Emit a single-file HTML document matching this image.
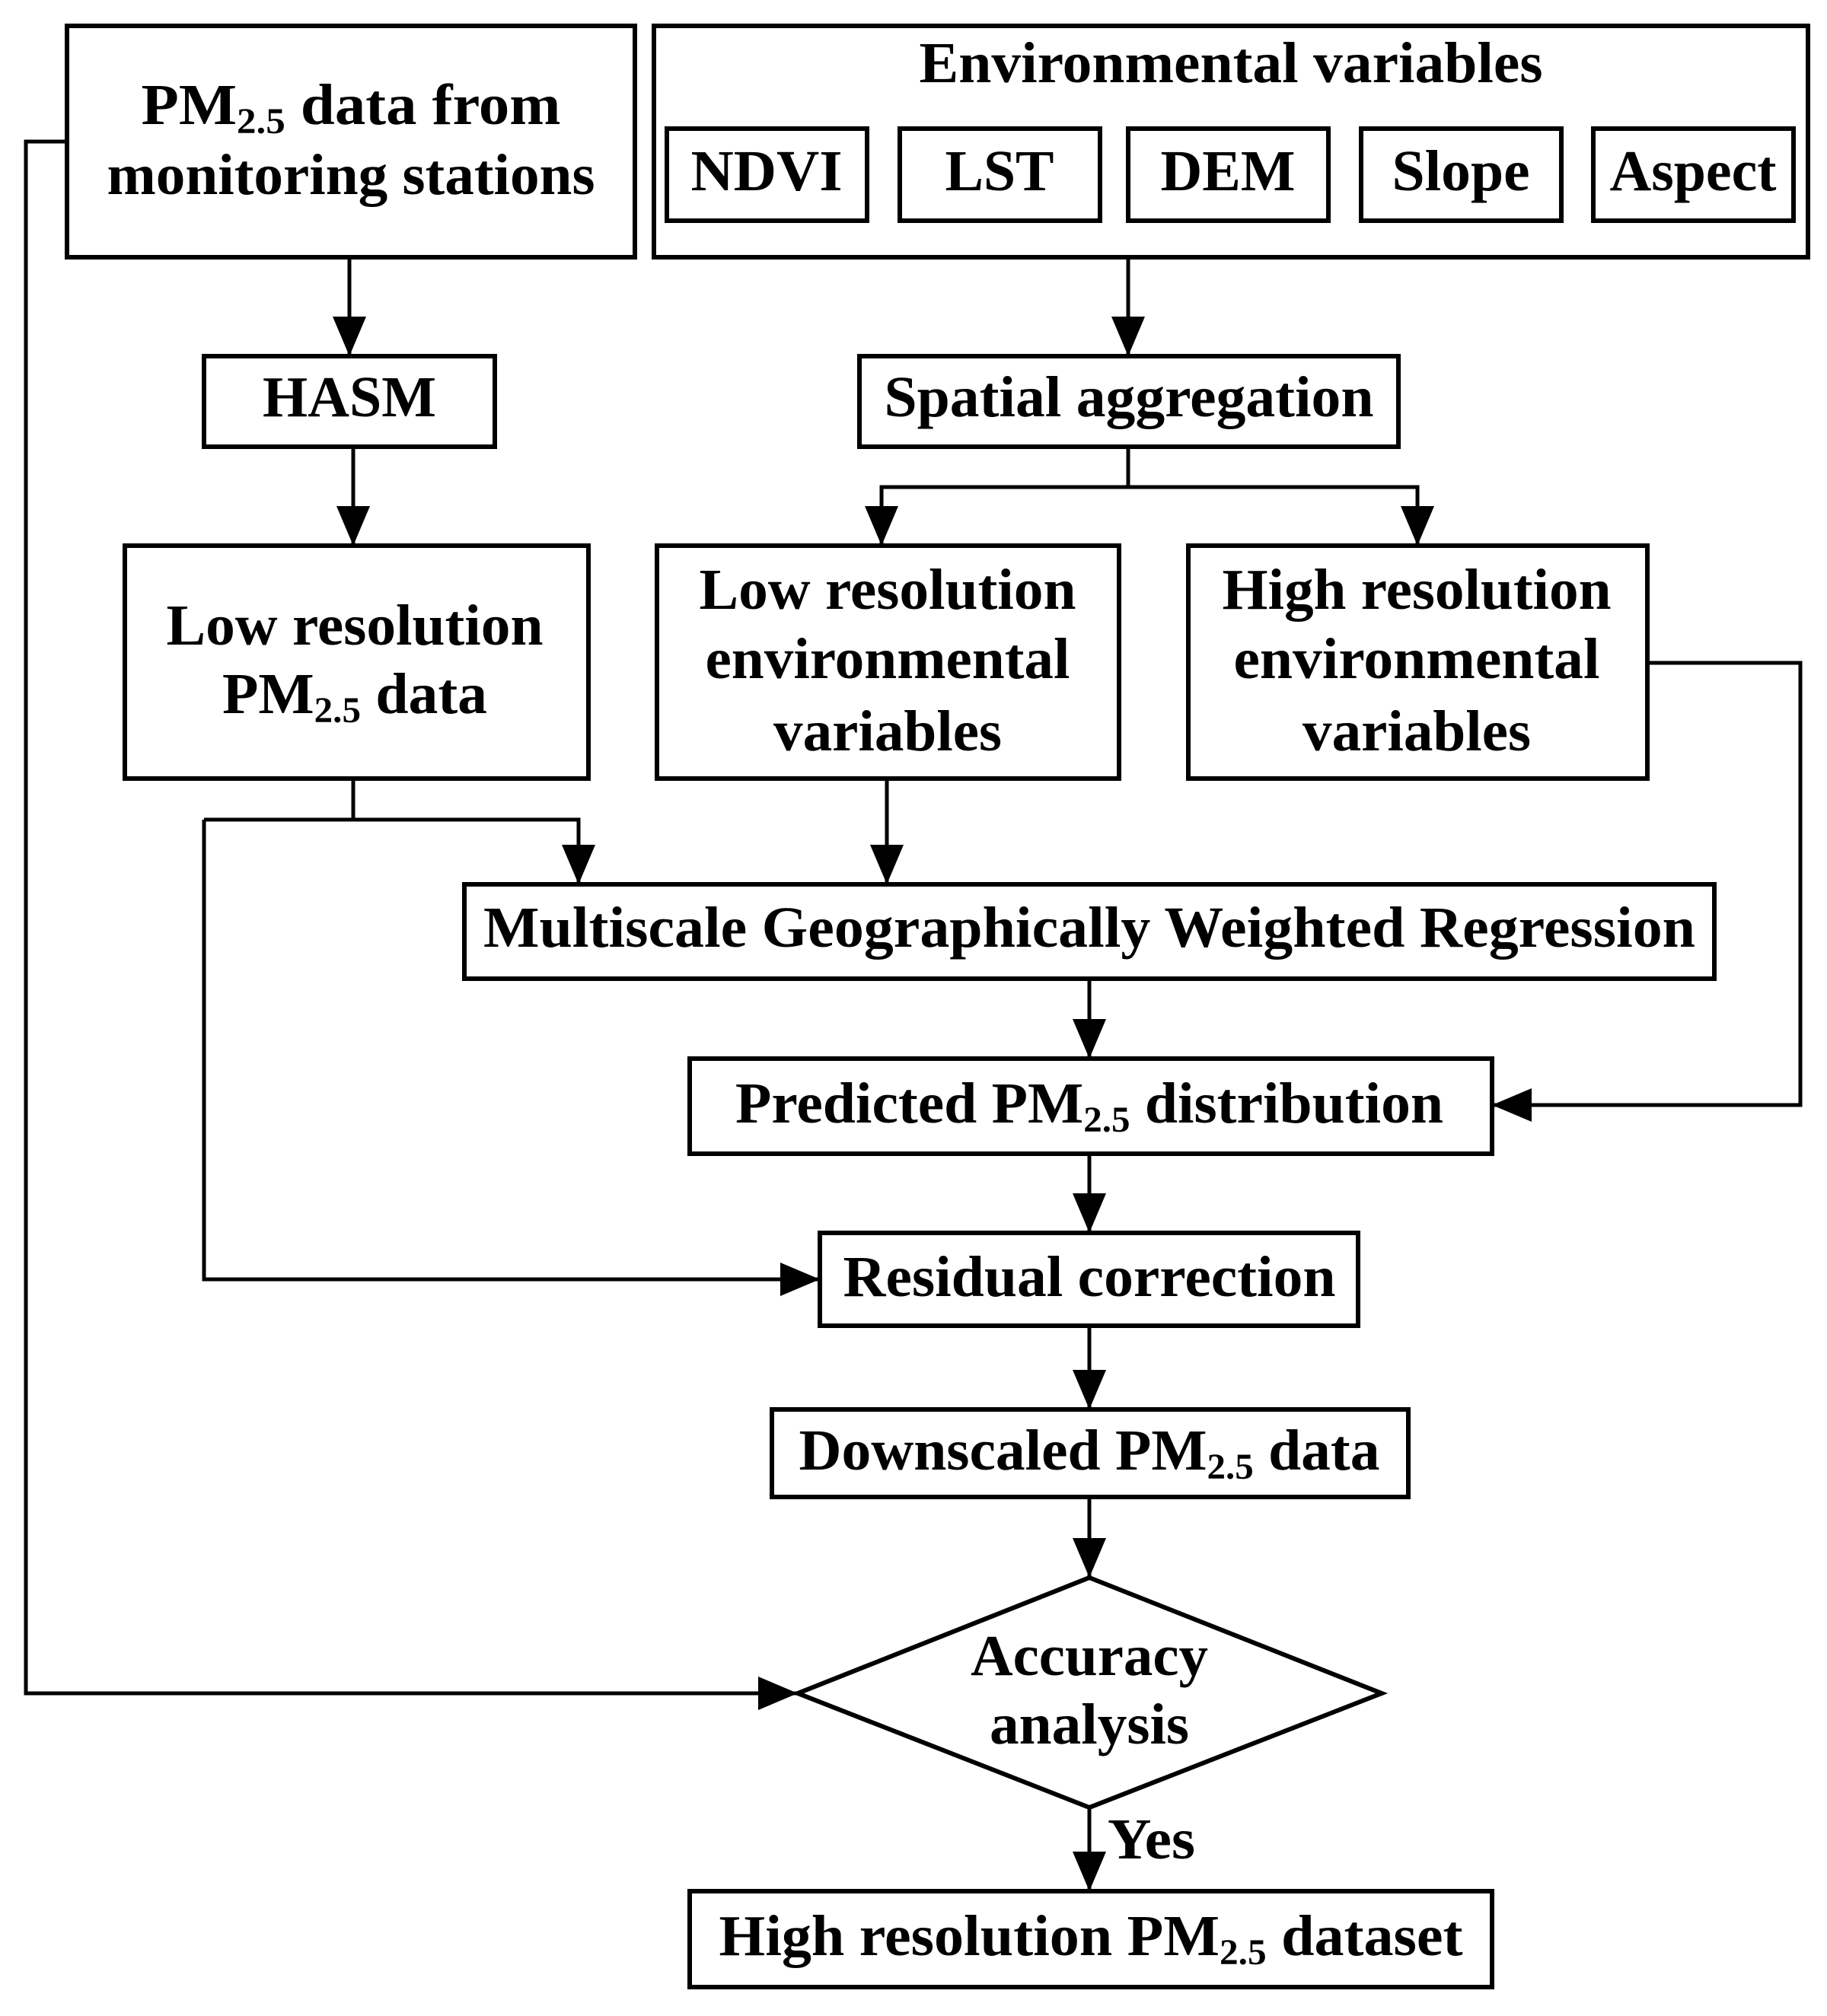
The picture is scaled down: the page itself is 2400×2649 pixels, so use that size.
<!DOCTYPE html>
<html><head><meta charset="utf-8"><style>
html,body{margin:0;padding:0;background:#fff}
svg{display:block}
text{font-family:"Liberation Serif",serif;font-weight:bold;font-size:76px;fill:#000}
</style></head><body>
<svg width="2400" height="2649" viewBox="0 0 2400 2649" xmlns="http://www.w3.org/2000/svg">
<defs>
<marker id="a" markerUnits="userSpaceOnUse" markerWidth="52" markerHeight="44" refX="52" refY="22" orient="auto">
<path d="M0,0 L52,22 L0,44 Z" fill="#000"/>
</marker>
</defs>
<g fill="none" stroke="#000" stroke-width="6">
<rect x="88" y="34" width="746" height="304"/>
<rect x="859" y="34" width="1516" height="304"/>
<rect x="876" y="169" width="263" height="121"/>
<rect x="1182" y="169" width="263" height="121"/>
<rect x="1482" y="169" width="263" height="121"/>
<rect x="1788" y="169" width="263" height="121"/>
<rect x="2093" y="169" width="263" height="121"/>
<rect x="268" y="468" width="382" height="119"/>
<rect x="1129" y="468" width="708" height="119"/>
<rect x="164" y="717" width="609" height="306"/>
<rect x="863" y="717" width="607" height="306"/>
<rect x="1561" y="717" width="603" height="306"/>
<rect x="610" y="1162" width="1642" height="124"/>
<rect x="906" y="1391" width="1054" height="125"/>
<rect x="1077" y="1620" width="707" height="122"/>
<rect x="1014" y="1852" width="836" height="115"/>
<path d="M1431,2073 L1815,2225 L1431,2375 L1048,2225 Z"/>
<rect x="906" y="2485" width="1054" height="126"/>
</g>
<g fill="none" stroke="#000" stroke-width="5">
<path d="M88,186 H34 V2225 H1048" marker-end="url(#a)"/>
<path d="M459,338 V468" marker-end="url(#a)"/>
<path d="M464,587 V717" marker-end="url(#a)"/>
<path d="M1482,338 V468" marker-end="url(#a)"/>
<path d="M1482,587 V640"/>
<path d="M1482,640 H1158 V717" marker-end="url(#a)"/>
<path d="M1482,640 H1862 V717" marker-end="url(#a)"/>
<path d="M464,1023 V1077"/>
<path d="M268,1077 H760 V1162" marker-end="url(#a)"/>
<path d="M268,1077 V1681 H1077" marker-end="url(#a)"/>
<path d="M1165,1023 V1162" marker-end="url(#a)"/>
<path d="M2164,871 H2365 V1452 H1960" marker-end="url(#a)"/>
<path d="M1431,1286 V1391" marker-end="url(#a)"/>
<path d="M1431,1516 V1620" marker-end="url(#a)"/>
<path d="M1431,1742 V1852" marker-end="url(#a)"/>
<path d="M1431,1967 V2073" marker-end="url(#a)"/>
<path d="M1431,2375 V2485" marker-end="url(#a)"/>
</g>
<g text-anchor="middle">
<text x="461" y="163" textLength="551" lengthAdjust="spacingAndGlyphs">PM<tspan font-size="48" dy="12">2.5</tspan><tspan dy="-12">  data from</tspan></text>
<text x="461" y="255" textLength="641" lengthAdjust="spacingAndGlyphs">monitoring stations</text>
<text x="1617" y="108" textLength="819" lengthAdjust="spacingAndGlyphs">Environmental variables</text>
<text x="1007" y="250" textLength="199" lengthAdjust="spacingAndGlyphs">NDVI</text>
<text x="1313" y="250" textLength="143" lengthAdjust="spacingAndGlyphs">LST</text>
<text x="1613" y="250" textLength="177" lengthAdjust="spacingAndGlyphs">DEM</text>
<text x="1919" y="250" textLength="181" lengthAdjust="spacingAndGlyphs">Slope</text>
<text x="2224" y="250" textLength="219" lengthAdjust="spacingAndGlyphs">Aspect</text>
<text x="459" y="547" textLength="228" lengthAdjust="spacingAndGlyphs">HASM</text>
<text x="1483" y="547" textLength="643" lengthAdjust="spacingAndGlyphs">Spatial aggregation</text>
<text x="466" y="847" textLength="495" lengthAdjust="spacingAndGlyphs">Low resolution</text>
<text x="466" y="937" textLength="348" lengthAdjust="spacingAndGlyphs">PM<tspan font-size="48" dy="12">2.5</tspan><tspan dy="-12"> data</tspan></text>
<text x="1166" y="800" textLength="495" lengthAdjust="spacingAndGlyphs">Low resolution</text>
<text x="1166" y="891" textLength="479" lengthAdjust="spacingAndGlyphs">environmental</text>
<text x="1166" y="986" textLength="300" lengthAdjust="spacingAndGlyphs">variables</text>
<text x="1861" y="800" textLength="511" lengthAdjust="spacingAndGlyphs">High resolution</text>
<text x="1861" y="891" textLength="481" lengthAdjust="spacingAndGlyphs">environmental</text>
<text x="1861" y="986" textLength="300" lengthAdjust="spacingAndGlyphs">variables</text>
<text x="1431" y="1244" textLength="1592" lengthAdjust="spacingAndGlyphs">Multiscale Geographically Weighted Regression</text>
<text x="1431" y="1475" textLength="930" lengthAdjust="spacingAndGlyphs">Predicted PM<tspan font-size="48" dy="12">2.5</tspan><tspan dy="-12"> distribution</tspan></text>
<text x="1431" y="1703" textLength="647" lengthAdjust="spacingAndGlyphs">Residual correction</text>
<text x="1431" y="1931" textLength="763" lengthAdjust="spacingAndGlyphs">Downscaled PM<tspan font-size="48" dy="12">2.5</tspan><tspan dy="-12"> data</tspan></text>
<text x="1431" y="2201" textLength="312" lengthAdjust="spacingAndGlyphs">Accuracy</text>
<text x="1431" y="2291" textLength="262" lengthAdjust="spacingAndGlyphs">analysis</text>
<text x="1433" y="2569" textLength="977" lengthAdjust="spacingAndGlyphs">High resolution PM<tspan font-size="48" dy="12">2.5</tspan><tspan dy="-12"> dataset</tspan></text>
</g>
<text x="1455" y="2442" textLength="115" lengthAdjust="spacingAndGlyphs">Yes</text>
</svg>
</body></html>
